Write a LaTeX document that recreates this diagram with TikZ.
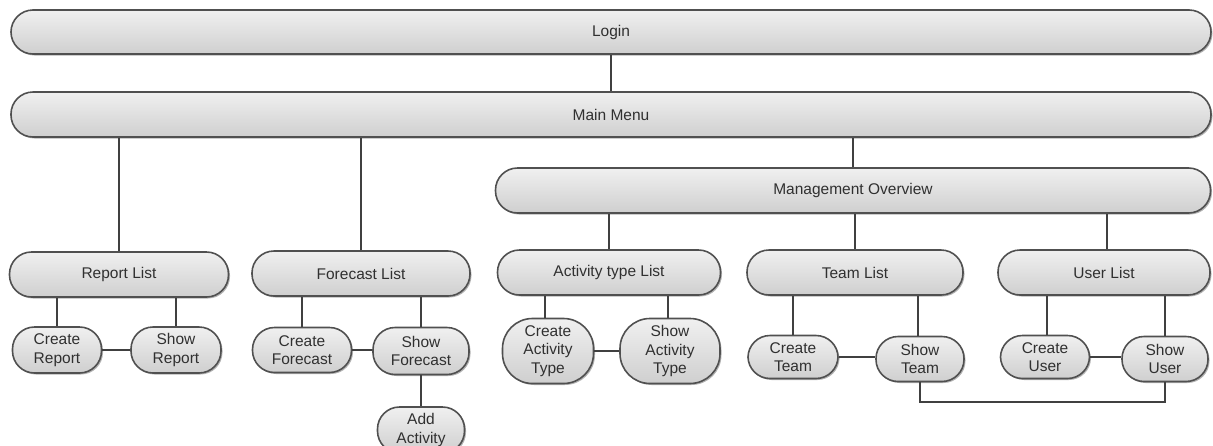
\documentclass[tikz,border=0pt]{standalone}
\usepackage{fontspec}
\setmainfont{Liberation Sans}
\usetikzlibrary{shadows}
\definecolor{boxtop}{HTML}{F0F0F0}
\definecolor{boxbot}{HTML}{CFCFCF}
\definecolor{boxline}{HTML}{505050}
\definecolor{linkline}{HTML}{404040}
\definecolor{txt}{HTML}{303030}
\tikzset{
  pill/.style={draw=boxline, line width=1.6pt, top color=boxtop, bottom color=boxbot,
    rounded corners=22pt, inner sep=0pt, align=center, text=txt,
    font=\fontsize{15.5}{18.5}\selectfont,
    drop shadow={shadow xshift=1.5pt, shadow yshift=-1.5pt, opacity=0.3, fill=black}},
  tall/.style={pill, rounded corners=30pt},
  link/.style={draw=linkline, line width=2pt}
}
\begin{document}
\begin{tikzpicture}[x=1pt,y=-1pt]
  \useasboundingbox (0,0) rectangle (1213,445);
  \clip (0,0) rectangle (1213,445);

  % top level bars
  \node[pill, minimum width=1200pt, minimum height=44pt] (login) at (611,32) {Login};
  \node[pill, minimum width=1200pt, minimum height=45pt] (main) at (611,114.5) {Main Menu};
  \node[pill, minimum width=715pt, minimum height=45pt] (mgmt) at (853,190.5) {Management Overview};

  % list pages
  \node[pill, minimum width=219pt, minimum height=45pt] (rl) at (119,274.5) {Report List};
  \node[pill, minimum width=218pt, minimum height=45pt] (fl) at (361,273.5) {Forecast List};
  \node[pill, minimum width=223pt, minimum height=45pt] (al) at (609,272.5) {Activity type List};
  \node[pill, minimum width=216pt, minimum height=45pt] (tl) at (855,272.5) {Team List};
  \node[pill, minimum width=212pt, minimum height=45pt] (ul) at (1104,272.5) {User List};

  % report pages
  \node[pill, minimum width=89pt, minimum height=46pt] (cr) at (57,350) {Create\\Report};
  \node[pill, minimum width=90pt, minimum height=46pt] (sr) at (176,350) {Show\\Report};

  % forecast pages
  \node[pill, minimum width=99pt, minimum height=45pt] (cf) at (302,350) {Create\\Forecast};
  \node[pill, minimum width=96pt, minimum height=47pt] (sf) at (421,351) {Show\\Forecast};
  \node[pill, minimum width=87pt, minimum height=46pt] (aa) at (421,430) {Add\\Activity};

  % activity type pages
  \node[tall, minimum width=91pt, minimum height=65pt] (ca) at (548,351) {Create\\Activity\\Type};
  \node[tall, minimum width=100pt, minimum height=65pt] (sa) at (670,351) {Show\\Activity\\Type};

  % team pages
  \node[pill, minimum width=90pt, minimum height=43pt] (ct) at (793,357) {Create\\Team};
  \node[pill, minimum width=88pt, minimum height=45pt] (st) at (920,359) {Show\\Team};

  % user pages
  \node[pill, minimum width=89pt, minimum height=43pt] (cu) at (1045,357) {Create\\User};
  \node[pill, minimum width=86pt, minimum height=45pt] (su) at (1165,359) {Show\\User};

  % vertical connectors
  \draw[link] (login.south) -- (main.north);
  \draw[link] (rl.north) -- (rl.north |- main.south);
  \draw[link] (fl.north) -- (fl.north |- main.south);
  \draw[link] (mgmt.north) -- (mgmt.north |- main.south);
  \draw[link] (al.north) -- (al.north |- mgmt.south);
  \draw[link] (tl.north) -- (tl.north |- mgmt.south);
  \draw[link] ([xshift=3pt]ul.north) -- ([xshift=3pt]ul.north |- mgmt.south);

  \draw[link] (cr.north) -- (cr.north |- rl.south);
  \draw[link] (sr.north) -- (sr.north |- rl.south);
  \draw[link] (cf.north) -- (cf.north |- fl.south);
  \draw[link] (sf.north) -- (sf.north |- fl.south);
  \draw[link] (sf.south) -- (aa.north);
  \draw[link] ([xshift=-3pt]ca.north) -- ([xshift=-3pt]ca.north |- al.south);
  \draw[link] ([xshift=-2pt]sa.north) -- ([xshift=-2pt]sa.north |- al.south);
  \draw[link] (ct.north) -- (ct.north |- tl.south);
  \draw[link] ([xshift=-2pt]st.north) -- ([xshift=-2pt]st.north |- tl.south);
  \draw[link] ([xshift=2pt]cu.north) -- ([xshift=2pt]cu.north |- ul.south);
  \draw[link] (su.north) -- (su.north |- ul.south);

  % horizontal links between sibling pages
  \draw[link] (cr.east) -- (cr.east -| sr.west);
  \draw[link] (cf.east) -- (cf.east -| sf.west);
  \draw[link] (ca.east) -- (ca.east -| sa.west);
  \draw[link] (ct.east) -- (ct.east -| st.west);
  \draw[link] (cu.east) -- (cu.east -| su.west);

  % link from Show Team to Show User
  \draw[link] (st.south) -- ++(0,20) -| (su.south);
\end{tikzpicture}
\end{document}
